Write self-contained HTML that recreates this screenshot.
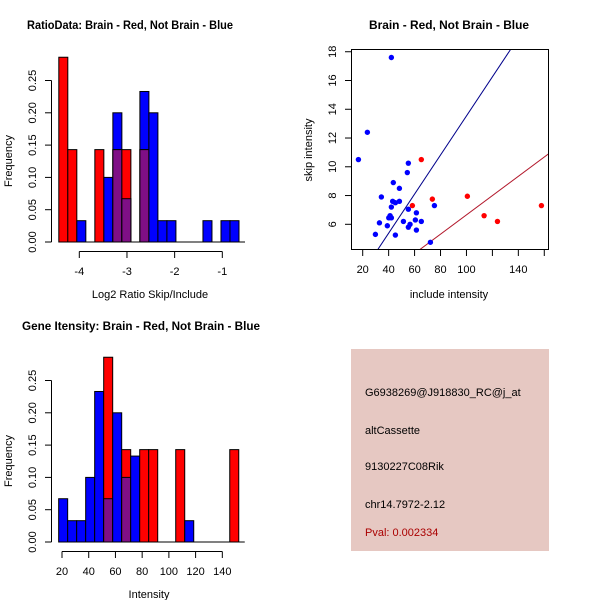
<!DOCTYPE html>
<html><head><meta charset="utf-8"><style>
html,body{margin:0;padding:0;background:#fff}
svg{display:block;font-family:"Liberation Sans",sans-serif}
</style></head><body>
<svg id="c" width="600" height="600" viewBox="0 0 600 600"></svg>
<script>
// ---- data: ratio histogram (top-left)
const ratioBinStart = -4.43, ratioBinWidth = 0.189;
const ratioRed  = [0.286,0.143,0,0,0.143,0,0.143,0.143,0,0.143,0,0,0,0,0,0,0,0,0,0];
const ratioBlue = [0,0,0.033,0,0,0.1,0.2,0.067,0,0.233,0.2,0.033,0.033,0,0,0,0.033,0,0.033,0.033];
const ratioXTicks = [-4,-3,-2,-1];
const freqTicks = ["0.00","0.05","0.10","0.15","0.20","0.25"];
// ---- data: intensity histogram (bottom-left)
const intBinStart = 17.5, intBinWidth = 6.74;
const intRed  = [0,0,0,0,0,0.286,0,0.143,0,0.143,0.143,0,0,0.143,0,0,0,0,0,0.143];
const intBlue = [0.067,0.033,0.033,0.1,0.233,0.067,0.2,0.1,0.133,0,0,0,0,0,0.033,0,0,0,0,0];
const intXTicks = [20,40,60,80,100,120,140];
// ---- data: scatter (top-right)
const blueX = [42.1,23.6,16.7,55.2,54.4,43.6,48.3,34.4,43.1,48.3,45.2,75.3,42.1,55.2,61.4,41.1,40.1,42.1,41.1,60.6,51.4,65.2,32.9,56.5,39.0,55.2,61.4,29.8,45.2,72.2];
const blueY = [17.6,12.4,10.5,10.25,9.6,8.9,8.5,7.9,7.6,7.6,7.5,7.3,7.2,7.05,6.8,6.6,6.45,6.45,6.5,6.3,6.2,6.2,6.1,6.0,5.9,5.8,5.6,5.3,5.25,4.75];
const redX = [65.2,73.7,58.3,100.7,113.6,123.9,157.8];
const redY = [10.5,7.75,7.3,7.95,6.6,6.2,7.3];
const lineSlopes = [0.1359,0.0671];
const lineIntercepts = [-0.054,-0.054];
const scatterXTicks = [20,40,60,80,100,120,140,160];
const scatterXLabels = ["20","40","60","80","100","","140",""];
const scatterYTicks = [6,8,10,12,14,16,18];

const svg = document.getElementById('c');
const NS = 'http://www.w3.org/2000/svg';
function mk(tag, attrs, parent){const e=document.createElementNS(NS,tag);for(const k in attrs)e.setAttribute(k,attrs[k]);(parent||svg).appendChild(e);return e;}
function txt(s, attrs){const e=mk('text',attrs);e.textContent=s;return e;}

function hist(x0px,pxPerUnit,y0px,pxPerFreq,binStart,binW,red,blue,prefix){
  const X=v=>x0px+(v)*pxPerUnit, Y=f=>y0px-f*pxPerFreq;
  for(let i=0;i<red.length;i++){
    const l=X(binStart+i*binW), r=X(binStart+(i+1)*binW);
    const b=blue[i], rd=red[i];
    if(b>0){const e=mk('rect',{x:l,y:Y(b),width:r-l,height:b*pxPerFreq,fill:'#0000ff',stroke:'#000','stroke-width':1});
      
      }
    if(rd>0){const e=mk('rect',{x:l,y:Y(rd),width:r-l,height:rd*pxPerFreq,fill:'#ff0000',stroke:'#000','stroke-width':1});
      
      }
    const m=Math.min(b,rd);
    if(m>0){const e=mk('rect',{x:l,y:Y(m),width:r-l,height:m*pxPerFreq,fill:'#7f0f86',stroke:'#000','stroke-width':1});
      
      }
  }
  const nb=red.length;
  const base=mk('line',{x1:X(binStart),x2:X(binStart+nb*binW)+6,y1:y0px,y2:y0px,stroke:'#000'});
  
  
  const yax=mk('line',{x1:51.5,x2:51.5,y1:Y(0),y2:Y(0.25),stroke:'#000'});
  
  
  freqTicks.forEach((t)=>{const y=Y(parseFloat(t));
    mk('line',{x1:45,x2:51.5,y1:y,y2:y,stroke:'#000'});
    const e=txt(t,{x:36,y:y,'font-size':11,'text-anchor':'middle',transform:`rotate(-90 36 ${y})`});
    
    
  });
  return X;
}

const Xr = v=>79.3+(v+4)*47.67;
hist(79.3+4*47.67,47.67,242,646,ratioBinStart,ratioBinWidth,ratioRed,ratioBlue,'ratio');
mk('line',{x1:Xr(-4),x2:Xr(-1),y1:251.5,y2:251.5,stroke:'#000'});
ratioXTicks.forEach(t=>{mk('line',{x1:Xr(t),x2:Xr(t),y1:251.5,y2:258,stroke:'#000'});
  const e=txt(String(t),{x:Xr(t),y:275,'font-size':11,'text-anchor':'middle'});
  
  });

const Xi = v=>62+(v-20)*1.336;
hist(62-20*1.336,1.336,542,646,intBinStart,intBinWidth,intRed,intBlue,'intensity');
mk('line',{x1:Xi(20),x2:Xi(140),y1:551.5,y2:551.5,stroke:'#000'});
intXTicks.forEach(t=>{mk('line',{x1:Xi(t),x2:Xi(t),y1:551.5,y2:558,stroke:'#000'});
  const e=txt(String(t),{x:Xi(t),y:575,'font-size':11,'text-anchor':'middle'});
  
  });

const Xs=v=>362.7+(v-20)*1.297, Ys=v=>224.3-(v-6)*14.38;
const box=mk('rect',{x:351.5,y:49.5,width:197,height:200,fill:'none',stroke:'#000'});


scatterXTicks.forEach((t,i)=>{mk('line',{x1:Xs(t),x2:Xs(t),y1:249.5,y2:256,stroke:'#000'});
  if(scatterXLabels[i]){const e=txt(scatterXLabels[i],{x:Xs(t),y:273,'font-size':11,'text-anchor':'middle'});
  
  }});
scatterYTicks.forEach(t=>{mk('line',{x1:345,x2:351.5,y1:Ys(t),y2:Ys(t),stroke:'#000'});
  const e=txt(String(t),{x:336,y:Ys(t),'font-size':11,'text-anchor':'middle',transform:`rotate(-90 336 ${Ys(t)})`});
  
  });
const clip=mk('clipPath',{id:'sc'});mk('rect',{x:352,y:50,width:196,height:199},clip);
const lineColors=['#00008b','#b2182b'];
lineSlopes.forEach((s,i)=>{const xa=0,xb=200;
  const e=mk('line',{x1:Xs(xa),y1:Ys(lineIntercepts[i]+s*xa),x2:Xs(xb),y2:Ys(lineIntercepts[i]+s*xb),stroke:lineColors[i],'stroke-width':1,'clip-path':'url(#sc)'});
  
  });
blueX.forEach((x,i)=>{const e=mk('circle',{cx:Xs(x),cy:Ys(blueY[i]),r:2.7,fill:'#0000ff'});
  
  });
redX.forEach((x,i)=>{const e=mk('circle',{cx:Xs(x),cy:Ys(redY[i]),r:2.7,fill:'#ff0000'});
  
  });
</script>
<svg width="600" height="600" style="position:absolute;left:0;top:0">
<g font-family="Liberation Sans, sans-serif">
<text x="130" y="29" font-size="11.5" font-weight="bold" text-anchor="middle" textLength="206" lengthAdjust="spacingAndGlyphs">RatioData: Brain - Red, Not Brain - Blue</text>
<text x="449" y="29" font-size="11.5" font-weight="bold" text-anchor="middle" textLength="160" lengthAdjust="spacingAndGlyphs">Brain - Red, Not Brain - Blue</text>
<text x="141" y="330" font-size="11.5" font-weight="bold" text-anchor="middle" textLength="238" lengthAdjust="spacingAndGlyphs">Gene Itensity: Brain - Red, Not Brain - Blue</text>
<text x="150" y="298" font-size="11" text-anchor="middle">Log2 Ratio Skip/Include</text>
<text x="149" y="598" font-size="11" text-anchor="middle">Intensity</text>
<text x="449" y="298" font-size="11" text-anchor="middle">include intensity</text>
<text x="12" y="161" font-size="11" text-anchor="middle" transform="rotate(-90 12 161)">Frequency</text>
<text x="12" y="461" font-size="11" text-anchor="middle" transform="rotate(-90 12 461)">Frequency</text>
<text x="312" y="150" font-size="11" text-anchor="middle" transform="rotate(-90 312 150)">skip intensity</text>
<rect x="351" y="349" width="198" height="202" fill="#e6c8c2"/>
<text x="365" y="396" font-size="11">G6938269@J918830_RC@j_at</text>
<text x="365" y="434" font-size="11">altCassette</text>
<text x="365" y="470" font-size="11">9130227C08Rik</text>
<text x="365" y="508" font-size="11">chr14.7972-2.12</text>
<text x="365" y="536" font-size="11" fill="#aa0000">Pval: 0.002334</text>
</g></svg>
</body></html>
